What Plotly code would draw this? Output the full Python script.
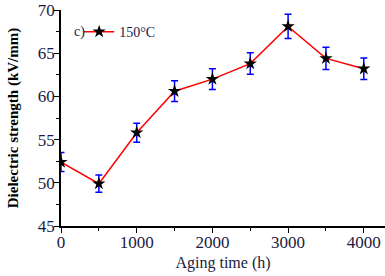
import plotly.graph_objects as go

aging_time = [0, 500, 1000, 1500, 2000, 2500, 3000, 3500, 4000]
strength = [52.4, 49.9, 55.8, 60.6, 62.0, 63.8, 68.1, 64.4, 63.2]
error = [1.1, 1.0, 1.1, 1.2, 1.2, 1.25, 1.4, 1.3, 1.25]
series_name = "150°C"
x_ticks = [0, 1000, 2000, 3000, 4000]
y_ticks = [45, 50, 55, 60, 65, 70]

FONT = "Liberation Serif, Times New Roman, serif"
TXT = "#1a1a40"

fig = go.Figure()
fig.add_trace(go.Scatter(
    x=aging_time, y=strength, mode="lines+markers", name=series_name,
    line=dict(color="#ff0000", width=1.5),
    marker=dict(symbol="star", size=10, color="black"),
    error_y=dict(type="data", array=error, visible=True, color="#0000ff",
                 thickness=1.5, width=3.5),
    showlegend=True,
))

fig.update_layout(
    width=385, height=276,
    margin=dict(l=61, r=0, t=10, b=50, autoexpand=False),
    paper_bgcolor="white", plot_bgcolor="white",
    font=dict(family=FONT, size=16, color=TXT),
    showlegend=True,
    legend=dict(x=0.056, y=0.898, xanchor="left", yanchor="middle",
                bgcolor="rgba(0,0,0,0)", font=dict(family=FONT, size=14, color=TXT),
                itemwidth=30, tracegroupgap=0),
    xaxis=dict(
        range=[0, 4280], tickvals=x_ticks, showline=True, linecolor="black",
        linewidth=1.5, ticks="outside", ticklen=5, tickwidth=1, tickcolor="black",
        showgrid=False, zeroline=False, automargin=False, ticklabelstandoff=-5,
        minor=dict(dtick=500, ticks="outside", ticklen=3, tickcolor="black", showgrid=False),
        tickfont=dict(family=FONT, size=17, color=TXT),
        title=dict(text="Aging time (h)", font=dict(family=FONT, size=16, color=TXT), standoff=6),
    ),
    yaxis=dict(
        range=[45, 70], tickvals=y_ticks, showline=True, linecolor="black",
        linewidth=1.5, ticks="outside", ticklen=5, tickwidth=1, tickcolor="black",
        showgrid=False, zeroline=False, automargin=False, ticklabelstandoff=-4,
        minor=dict(dtick=2.5, ticks="outside", ticklen=3, tickcolor="black", showgrid=False),
        tickfont=dict(family=FONT, size=17, color=TXT),
        title=dict(text="<b>Dielectric strength (kV/mm)</b>",
                   font=dict(family=FONT, size=15, color="black"), standoff=16),
    ),
    annotations=[dict(text="c)", x=0.034, y=0.898, xref="paper", yref="paper",
                      xanchor="left", yanchor="middle", showarrow=False,
                      font=dict(family=FONT, size=14, color=TXT))],
)

# remove the browser's default 8px page margin so the figure fills the window
fig.write_html("out.html", config={"displayModeBar": False},
               post_script="document.body.style.margin='0';")
